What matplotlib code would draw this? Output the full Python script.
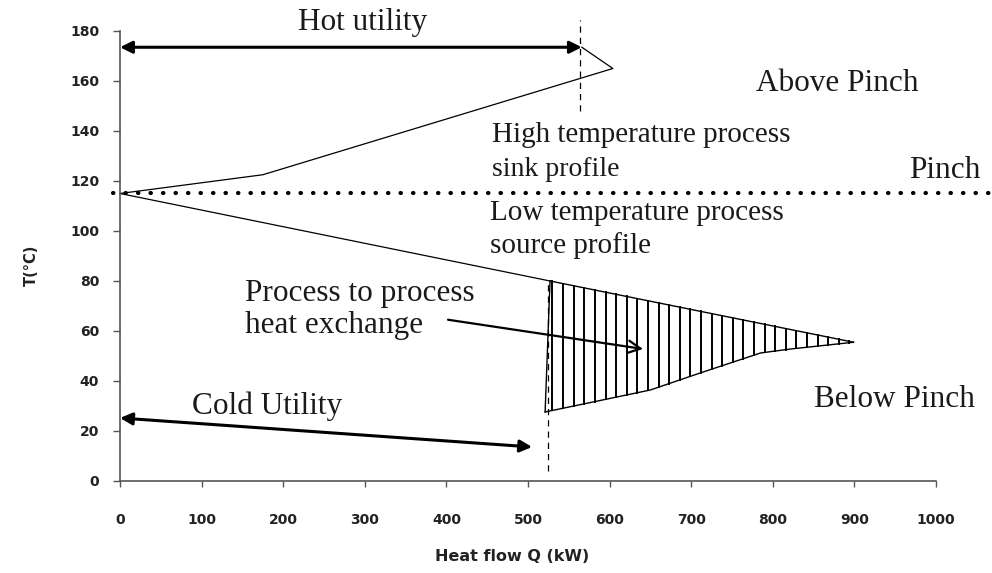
import numpy as np
import matplotlib.pyplot as plt

# composite curves, heat flow Q (kW) vs temperature T (degC)
pinch_t = 115
sink_q = [0, 175, 604, 566]
sink_t = [115, 122.5, 165, 173.5]
source_q = [0, 527]
source_t = [115, 80]

# process to process heat exchange region below the pinch
hx_top_q = [527, 899]
hx_top_t = [80, 55.5]
hx_bot_q = [521, 650, 711, 785, 822, 899]
hx_bot_t = [27.6, 36.4, 43.2, 51.2, 52.8, 55.5]

hot_util_q = [0, 566]
hot_util_t = 173.5
cold_util_q = [0, 505]
cold_util_t = [25.2, 13.6]
hot_split_q = 564
cold_split_q = 524

xticks = [0, 100, 200, 300, 400, 500, 600, 700, 800, 900, 1000]
yticks = [0, 20, 40, 60, 80, 100, 120, 140, 160, 180]

serif = 'Liberation Serif'
sans = 'DejaVu Sans'

fig = plt.figure(figsize=(9.92, 5.73), dpi=100)
ax = fig.add_axes([0.121, 0.1606, 0.8225, 0.7853])
ax.set_xlim(0, 1000)
ax.set_ylim(0, 180)

for s in ['top', 'right']:
    ax.spines[s].set_visible(False)
for s in ['left', 'bottom']:
    ax.spines[s].set_color('#555555')
    ax.spines[s].set_linewidth(1.2)

ax.set_xticks(xticks)
ax.set_yticks(yticks)
ax.tick_params(axis='x', length=4, width=1, color='#555555', pad=19)
ax.tick_params(axis='y', length=5, width=1, color='#555555', pad=10)
for lab in ax.get_xticklabels() + ax.get_yticklabels():
    lab.set_fontfamily(sans)
    lab.set_fontweight('bold')
    lab.set_fontsize(10)
    lab.set_color('#222222')

ax.set_xlabel('Heat flow Q (kW)', fontfamily=sans, fontweight='bold',
              fontsize=11.5, color='#222222')
ax.xaxis.set_label_coords(0.48, -0.152)
ax.set_ylabel('T(°C)', fontfamily=sans, fontweight='bold', fontsize=10.5,
              color='#222222')
ax.yaxis.set_label_coords(-0.10, 0.48)

# pinch line
ax.plot([-9, 1067], [pinch_t, pinch_t], color='black', lw=3,
        linestyle=(0, (0.1, 2.9)), dash_capstyle='round', clip_on=False)

# sink and source profiles
ax.plot(sink_q, sink_t, color='black', lw=0.9, clip_on=False)
ax.plot(source_q, source_t, color='black', lw=0.9)

# hatched heat exchange area
ax.plot(hx_top_q, hx_top_t, color='black', lw=1)
ax.plot(hx_bot_q, hx_bot_t, color='black', lw=1)
ax.plot([hx_top_q[0], hx_bot_q[0]], [hx_top_t[0], hx_bot_t[0]],
        color='black', lw=1)
for q in np.arange(530, 895, 13.0):
    top = np.interp(q, hx_top_q, hx_top_t)
    bot = np.interp(q, hx_bot_q, hx_bot_t)
    ax.plot([q, q], [bot, top], color='black', lw=1.4)

# dashed split lines
ax.plot([hot_split_q, hot_split_q], [148, 184.5], color='black', lw=0.9,
        linestyle=(0, (5, 4)), clip_on=False)
ax.plot([cold_split_q, cold_split_q], [4, 79], color='black', lw=0.9,
        linestyle=(0, (5, 4)))

# utility arrows
ax.annotate('', xy=(hot_util_q[1], hot_util_t), xytext=(hot_util_q[0], hot_util_t),
            arrowprops=dict(arrowstyle='<|-|>', color='black', lw=2.2,
                            mutation_scale=18, shrinkA=0, shrinkB=0))
ax.annotate('', xy=(cold_util_q[1], cold_util_t[1]),
            xytext=(cold_util_q[0], cold_util_t[0]),
            arrowprops=dict(arrowstyle='<|-|>', color='black', lw=2.2,
                            mutation_scale=18, shrinkA=0, shrinkB=0))
ax.annotate('', xy=(641, 52.8), xytext=(402, 64.5),
            arrowprops=dict(arrowstyle='->', color='black', lw=1.6,
                            mutation_scale=22, shrinkA=0, shrinkB=0))

# labels
def label(x, y, s, size, **kw):
    ax.text(x, y, s, fontfamily=serif, fontsize=size, va='center',
            color='#1a1a1a', clip_on=False, **kw)

label(297, 183.5, 'Hot utility', 22.5, ha='center')
label(779, 158.8, 'Above Pinch', 22.5)
label(456, 138.4, 'High temperature process', 21)
label(456, 124.4, 'sink profile', 20)
label(967, 124, 'Pinch', 22.5)
label(454, 107, 'Low temperature process', 21)
label(454, 94, 'source profile', 21)
label(153, 75, 'Process to process', 22.5)
label(153, 62, 'heat exchange', 22.5)
label(88, 30, 'Cold Utility', 22.5)
label(850, 32.4, 'Below Pinch', 22.5)

fig.savefig('out.png', dpi=100)
